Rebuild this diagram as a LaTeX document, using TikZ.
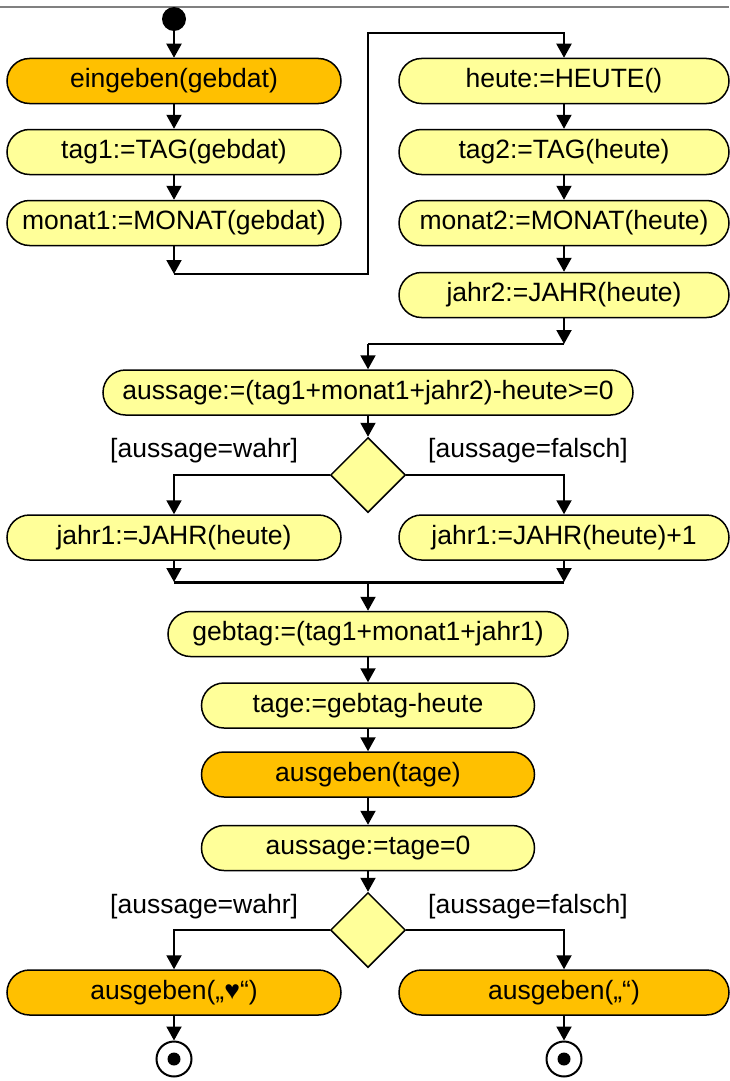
\documentclass[tikz,border=0pt]{standalone}
\usepackage{fontspec}
\setmainfont{Liberation Sans}
\usetikzlibrary{arrows.meta,shapes.geometric}
\definecolor{actyellow}{HTML}{FFFF99}
\definecolor{actorange}{HTML}{FFC000}
\definecolor{topgray}{HTML}{808080}
\begin{document}
\begin{tikzpicture}[x=1pt,y=-1pt,
  act/.style={draw=black, line width=1.5pt, rounded corners=22.5pt, minimum height=45pt,
    inner sep=0pt, fill=actyellow, font=\fontsize{26.5}{30}\selectfont},
  io/.style={act, fill=actorange},
  wl/.style={minimum width=334pt},
  wr/.style={minimum width=330pt},
  wm/.style={minimum width=333pt},
  dec/.style={draw=black, line width=1.5pt, fill=actyellow, diamond, aspect=1,
    minimum width=75pt, minimum height=75pt, inner sep=0pt},
  guard/.style={anchor=base west, inner sep=0pt, font=\fontsize{26.5}{30}\selectfont},
  arr/.style={line width=2pt, -{Triangle[width=15pt,length=14pt]}},
  ln/.style={line width=2pt},
  bar/.style={line width=3pt},
  startnode/.style={circle, fill=black, minimum size=24pt, inner sep=0pt},
  endnode/.style={circle, draw=black, line width=2pt, fill=white, minimum size=35pt, inner sep=0pt}
]
\useasboundingbox (0,0) rectangle (729,1081);
\draw[topgray, line width=2pt] (0,7) -- (729,7);

% left column
\node[startnode] (start) at (174,19) {};
\node[io,wl] (in1) at (174,81) {eingeben(gebdat)};
\node[act,wl] (tag1) at (174,152) {tag1:=TAG(gebdat)};
\node[act,wl] (mon1) at (174,223) {monat1:=MONAT(gebdat)};
\coordinate (j1) at (174,274);
\coordinate (j2) at (368,274);
\coordinate (j3) at (368,33);

% right column
\node[act,wr] (heute) at (564,81) {heute:=HEUTE()};
\node[act,wr] (tag2) at (564,152) {tag2:=TAG(heute)};
\node[act,wr] (mon2) at (564,223) {monat2:=MONAT(heute)};
\node[act,wr] (jahr2) at (564,295) {jahr2:=JAHR(heute)};
\coordinate (k1) at (564,344);
\coordinate (k2) at (368,344);

% middle
\node[act,minimum width=530pt] (auss1) at (368,392.5) {aussage:=(tag1+monat1+jahr2)-heute>=0};
\node[dec] (d1) at (368,475) {};
\node[guard] (g1) at (110,457) {[aussage=wahr]};
\node[guard] (g2) at (428,457) {[aussage=falsch]};
\node[act,wl] (ja1) at (174,537.5) {jahr1:=JAHR(heute)};
\node[act,wr] (ja2) at (564,537.5) {jahr1:=JAHR(heute)+1};
\coordinate (m1) at (174,582);
\coordinate (m2) at (564,582);
\coordinate (m3) at (368,582);
\node[act,minimum width=400pt] (gebtag) at (368,634) {gebtag:=(tag1+monat1+jahr1)};
\node[act,wm] (tage) at (368,705.5) {tage:=gebtag-heute};
\node[io,wm] (aus) at (368,774.5) {ausgeben(tage)};
\node[act,wm] (auss2) at (368,848) {aussage:=tage=0};
\node[dec] (d2) at (368,930) {};
\node[guard] (g3) at (110,913) {[aussage=wahr]};
\node[guard] (g4) at (428,913) {[aussage=falsch]};
\node[io,wl] (out1) at (174,992.5) {ausgeben(„♥“)};
\node[io,wr] (out2) at (564,992.5) {ausgeben(„“)};
\node[endnode] (e1) at (174,1059) {};
\node[endnode] (e2) at (564,1059) {};
\fill (e1.center) circle (6.5pt);
\fill (e2.center) circle (6.5pt);

% connectors
\draw[arr] (start) -- (in1);
\draw[arr] (in1) -- (tag1);
\draw[arr] (tag1) -- (mon1);
\draw[arr] (mon1) -- (j1);
\draw[arr] (j1) -- (j2) -- (j3) -- (heute.north |- j3) -- (heute.north);
\draw[arr] (heute) -- (tag2);
\draw[arr] (tag2) -- (mon2);
\draw[arr] (mon2) -- (jahr2);
\draw[arr] (jahr2) -- (k1);
\draw[ln] (k1) -- (k2);
\draw[arr] (k2) -- (auss1.north);
\draw[arr] (auss1) -- (d1);
\draw[arr] (d1.west) -| (ja1.north);
\draw[arr] (d1.east) -| (ja2.north);
\draw[arr] (ja1) -- (m1);
\draw[arr] (ja2) -- (m2);
\draw[bar] (m1) -- (m2);
\draw[arr] (m3) -- (gebtag.north);
\draw[arr] (gebtag) -- (tage);
\draw[arr] (tage) -- (aus);
\draw[arr] (aus) -- (auss2);
\draw[arr] (auss2) -- (d2);
\draw[arr] (d2.west) -| (out1.north);
\draw[arr] (d2.east) -| (out2.north);
\draw[arr] (out1) -- (e1);
\draw[arr] (out2) -- (e2);
\end{tikzpicture}
\end{document}
